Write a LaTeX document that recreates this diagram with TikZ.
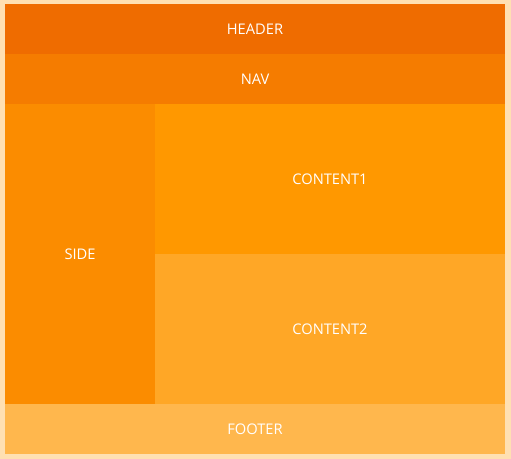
\documentclass[tikz,border=0pt]{standalone}
\usepackage{fontspec}
\setmainfont{Open Sans}
\definecolor{bgc}{HTML}{FFE0B2}
\definecolor{c8}{HTML}{EF6C00}
\definecolor{c7}{HTML}{F57C00}
\definecolor{c6}{HTML}{FB8C00}
\definecolor{c5}{HTML}{FF9800}
\definecolor{c4}{HTML}{FFA726}
\definecolor{c3}{HTML}{FFB74D}
\tikzset{
  region/.style={inner sep=0pt, text=white, font=\fontsize{11}{13}\selectfont}
}
\begin{document}
\begin{tikzpicture}[x=0.75pt,y=-0.75pt]
\fill[bgc] (0,0) rectangle (511,459);
\useasboundingbox (0,0) rectangle (511,459);
\fill[c8] (5,4) rectangle (505,54);
\fill[c7] (5,54) rectangle (505,104);
\fill[c6] (5,104) rectangle (155,404);
\fill[c5] (155,104) rectangle (505,254);
\fill[c4] (155,254) rectangle (505,404);
\fill[c3] (5,404) rectangle (505,454);
\node[region] (header) at (255,29.5) {HEADER};
\node[region] (nav) at (255,79.5) {NAV};
\node[region] (side) at (80,254.5) {SIDE};
\node[region] (content1) at (330,179.5) {CONTENT1};
\node[region] (content2) at (330,329.5) {CONTENT2};
\node[region] (footer) at (255,429.5) {FOOTER};
\end{tikzpicture}
\end{document}
